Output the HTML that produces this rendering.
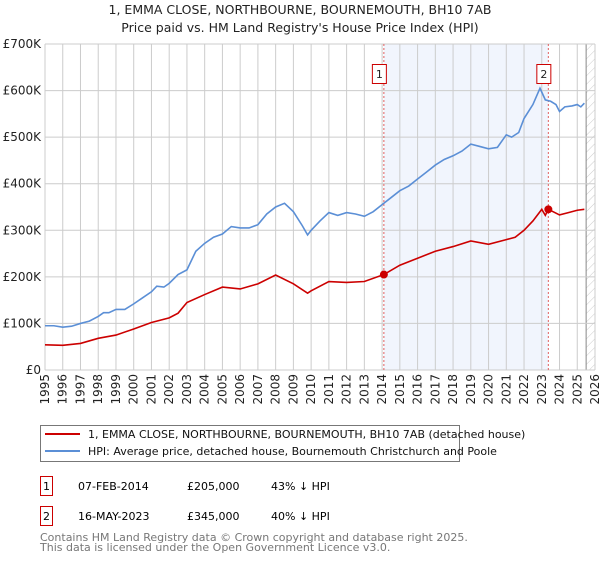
<!DOCTYPE html>
<html><head><meta charset="utf-8"><style>
body{margin:0;width:600px;height:560px;background:#fff;font-family:"Liberation Sans","DejaVu Sans",sans-serif;overflow:hidden}
svg text{font-family:"DejaVu Sans","Liberation Sans",sans-serif}
</style></head><body>
<svg id="chart" width="600" height="560" xmlns="http://www.w3.org/2000/svg">
<text x="300" y="14" text-anchor="middle" font-size="12.5" fill="#222">1, EMMA CLOSE, NORTHBOURNE, BOURNEMOUTH, BH10 7AB</text>
<text x="300" y="32" text-anchor="middle" font-size="12.5" fill="#222">Price paid vs. HM Land Registry's House Price Index (HPI)</text>
<g id="grid"></g><g id="marks"></g><g id="axes"></g>
<g>
<rect x="40.5" y="425.5" width="419" height="36" fill="#fff" stroke="#777"/>
<line x1="45" y1="434" x2="80" y2="434" stroke="#cc0000" stroke-width="2"/>
<text x="88" y="438" font-size="11" fill="#111">1, EMMA CLOSE, NORTHBOURNE, BOURNEMOUTH, BH10 7AB (detached house)</text>
<line x1="45" y1="451" x2="80" y2="451" stroke="#5b8fd6" stroke-width="2"/>
<text x="88" y="455" font-size="11" fill="#111">HPI: Average price, detached house, Bournemouth Christchurch and Poole</text>
</g>
<g>
<rect x="40.5" y="476.5" width="12" height="19" fill="#fff" stroke="#cc0000"/>
<text x="46.5" y="490" text-anchor="middle" font-size="11">1</text>
<text x="78" y="490" font-size="11">07-FEB-2014</text>
<text x="187" y="490" font-size="11">£205,000</text>
<text x="271" y="490" font-size="11">43% ↓ HPI</text>
</g>
<g>
<rect x="40.5" y="506.5" width="12" height="19" fill="#fff" stroke="#cc0000"/>
<text x="46.5" y="520" text-anchor="middle" font-size="11">2</text>
<text x="78" y="520" font-size="11">16-MAY-2023</text>
<text x="187" y="520" font-size="11">£345,000</text>
<text x="271" y="520" font-size="11">40% ↓ HPI</text>
</g>
<text font-size="11" fill="#777"><tspan x="40" y="541">Contains HM Land Registry data © Crown copyright and database right 2025.</tspan><tspan x="40" y="551">This data is licensed under the Open Government Licence v3.0.</tspan></text>
</svg>
<script>
const yTicks=[0,100,200,300,400,500,600,700];
const yTickLabels=["£0","£100K","£200K","£300K","£400K","£500K","£600K","£700K"];
const xYears=[1995,1996,1997,1998,1999,2000,2001,2002,2003,2004,2005,2006,2007,2008,2009,2010,2011,2012,2013,2014,2015,2016,2017,2018,2019,2020,2021,2022,2023,2024,2025,2026];
const hpiDates=[1995.0,1995.5,1996.0,1996.5,1997.0,1997.5,1998.0,1998.3,1998.6,1999.0,1999.5,2000.0,2000.5,2001.0,2001.3,2001.7,2002.0,2002.5,2003.0,2003.5,2004.0,2004.5,2005.0,2005.5,2006.0,2006.5,2007.0,2007.5,2008.0,2008.5,2009.0,2009.5,2009.8,2010.0,2010.5,2011.0,2011.5,2012.0,2012.5,2013.0,2013.5,2014.0,2014.5,2015.0,2015.5,2016.0,2016.5,2017.0,2017.5,2018.0,2018.5,2019.0,2019.5,2020.0,2020.5,2021.0,2021.3,2021.7,2022.0,2022.5,2022.9,2023.2,2023.5,2023.8,2024.0,2024.3,2024.7,2025.0,2025.2,2025.4];
const hpiValues=[95,95,92,94,100,105,115,123,123,130,130,142,155,168,180,178,186,205,215,255,272,285,292,308,305,305,312,335,350,358,340,310,290,300,320,338,332,338,335,330,340,355,370,385,395,410,425,440,452,460,470,485,480,475,478,505,500,510,540,570,605,580,577,570,555,565,567,570,565,573];
const redDates=[1995,1996,1997,1998,1999,2000,2001,2002,2002.5,2003,2004,2005,2006,2007,2008,2009,2009.8,2010,2011,2012,2013,2014.1,2015,2016,2017,2018,2019,2020,2021,2021.5,2022,2022.5,2023,2023.2,2023.37,2024,2024.5,2025,2025.4];
const redValues=[54,53,57,68,75,88,102,112,122,145,162,178,174,185,204,185,165,170,190,188,190,205,225,240,255,265,277,270,280,285,300,320,345,332,345,333,338,343,345];
const saleDates=[2014.1,2023.37];
const saleValues=[205,345];
const saleLabels=["1","2"];

const NS="http://www.w3.org/2000/svg";
const X0=45,X1=595,Y0=370,Y1=44;
const xs=t=>X0+(t-1995)/(2026-1995)*(X1-X0);
const ys=v=>Y0-v/700*(Y0-Y1);
function mk(tag,attrs,parent){const e=document.createElementNS(NS,tag);for(const k in attrs)e.setAttribute(k,attrs[k]);parent.appendChild(e);return e;}
const grid=document.getElementById('grid'),marks=document.getElementById('marks'),axes=document.getElementById('axes');
// shaded ownership band
let band=mk('rect',{x:xs(saleDates[0]),y:Y1,width:xs(saleDates[1])-xs(saleDates[0]),height:Y0-Y1,fill:'#eef3fd',opacity:0.8},grid);


// hatched future
const pat=mk('pattern',{id:'hatch',width:6,height:6,patternUnits:'userSpaceOnUse',patternTransform:'rotate(45)'},mk('defs',{},grid));
mk('line',{x1:0,y1:0,x2:0,y2:6,stroke:'#ccc','stroke-width':1},pat);
let hat=mk('rect',{x:xs(2025.5),y:Y1,width:X1-xs(2025.5),height:Y0-Y1,fill:'url(#hatch)'},grid);


mk('line',{x1:xs(2025.5),y1:Y1,x2:xs(2025.5),y2:Y0,stroke:'#888','stroke-width':1},grid);
yTicks.forEach((v,i)=>{
  mk('line',{x1:X0,y1:ys(v),x2:X1,y2:ys(v),stroke:'#ccc','stroke-width':1},grid);
  const t=mk('text',{x:X0-4,y:ys(v)+4,'text-anchor':'end','font-size':12,fill:'#222'},axes);
  t.textContent=yTickLabels[i];
  
  
});
xYears.forEach(yr=>{
  mk('line',{x1:xs(yr),y1:Y1,x2:xs(yr),y2:Y0,stroke:'#ccc','stroke-width':1},grid);
  const t=mk('text',{x:0,y:0,'text-anchor':'end','font-size':12,fill:'#222',transform:`translate(${xs(yr)+4},374) rotate(-90)`},axes);
  t.textContent=yr;
  
  
});
saleDates.forEach(d=>{mk('line',{x1:xs(d),y1:Y1,x2:xs(d),y2:Y0,stroke:'#e06060','stroke-width':1,'stroke-dasharray':'2,2'},grid);});
const hp=mk('polyline',{points:hpiDates.map((d,i)=>xs(d)+','+ys(hpiValues[i])).join(' '),fill:'none',stroke:'#5b8fd6','stroke-width':1.6},marks);


const rp=mk('polyline',{points:redDates.map((d,i)=>xs(d)+','+ys(redValues[i])).join(' '),fill:'none',stroke:'#cc0000','stroke-width':1.6},marks);


saleDates.forEach((d,i)=>{
  const c=mk('circle',{cx:xs(d),cy:ys(saleValues[i]),r:4,fill:'#cc0000'},marks);
  
  
  const g=mk('g',{},marks);
  
  
  mk('rect',{x:xs(d)-11.5,y:64.5,width:14,height:19,fill:'#fff',stroke:'#cc0000'},g);
  const t=mk('text',{x:xs(d)-4.5,y:78,'text-anchor':'middle','font-size':11,fill:'#222'},g);
  t.textContent=saleLabels[i];
});
</script>
</body></html>
